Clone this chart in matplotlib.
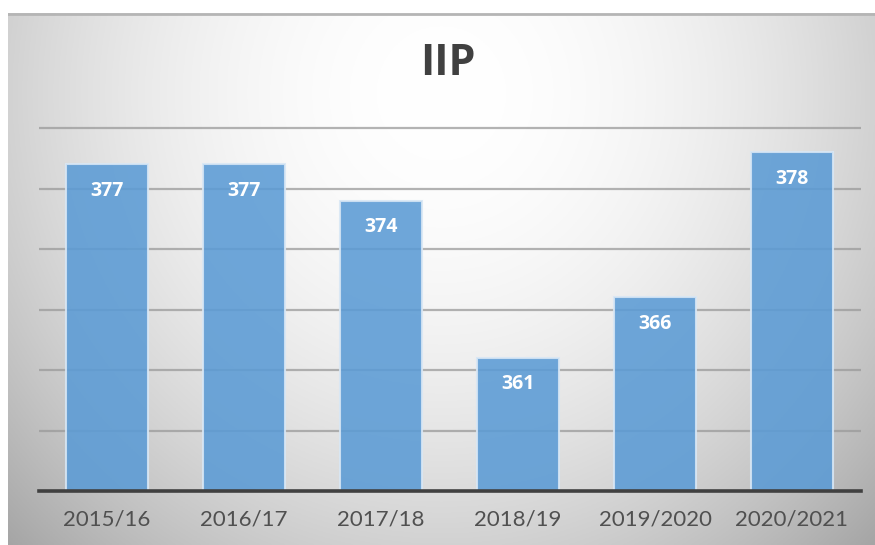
import numpy as np
import matplotlib.pyplot as plt

# data
years = ["2015/16", "2016/17", "2017/18", "2018/19", "2019/2020", "2020/2021"]
iip = [377, 377, 374, 361, 366, 378]
grid_vals = [355, 360, 365, 370, 375, 380]

fig = plt.figure(figsize=(8.75, 5.45), dpi=100)
fig.patch.set_facecolor("white")

# radial grey background of the chart area
bg = fig.add_axes([8 / 875, 0, 1 - 8 / 875, (545 - 13) / 545])
bg.set_axis_off()
yy, xx = np.mgrid[0:1:300j, 0:1:500j]
r = np.sqrt(((xx - 0.5) / 0.62) ** 2 + ((yy - 0.15) / 1.05) ** 2)
shade = 1.0 - 0.27 * np.clip(r, 0, 1.2) ** 2
bg.imshow(np.dstack([shade] * 3), extent=[0, 1, 0, 1], origin="upper",
          aspect="auto")
bg.axhline(0.998, color="#b5b5b5", lw=2)
bg.set_xlim(0, 1)
bg.set_ylim(0, 1)

ax = fig.add_axes([38.5 / 875, 54 / 545, 822 / 875, 369 / 545])
ax.patch.set_alpha(0)
x = np.arange(len(years))
for g in grid_vals:
    ax.axhline(g, color="#9a9a9a", lw=1.6, alpha=0.75, zorder=1)
bars = ax.bar(x, iip, width=0.6, bottom=0, color="#5b9bd5", alpha=0.88,
              edgecolor="#d8e7f5", linewidth=1.5, zorder=2)
ax.axhline(350, color="#404040", lw=2.6, zorder=4, clip_on=False)

for xi, v in zip(x, iip):
    ax.annotate(str(v), (xi, v), xytext=(0, -19), textcoords="offset points",
                ha="center", va="center", color="white", fontsize=14,
                fontweight="bold", family="Open Sans", zorder=5)

ax.set_xlim(-0.5, len(years) - 0.5)
ax.set_ylim(350, 380.5)
ax.set_xticks(x)
ax.set_xticklabels(years, fontsize=16, color="#505050", family="Lato")
ax.tick_params(axis="x", length=0, pad=13)
ax.set_yticks([])
for s in ax.spines.values():
    s.set_visible(False)

fig.text(448 / 875, 1 - 63 / 545, "IIP", ha="center", va="center",
         fontsize=31, fontweight="bold", color="#404040", family="Open Sans")

fig.savefig("out.png", dpi=100)
